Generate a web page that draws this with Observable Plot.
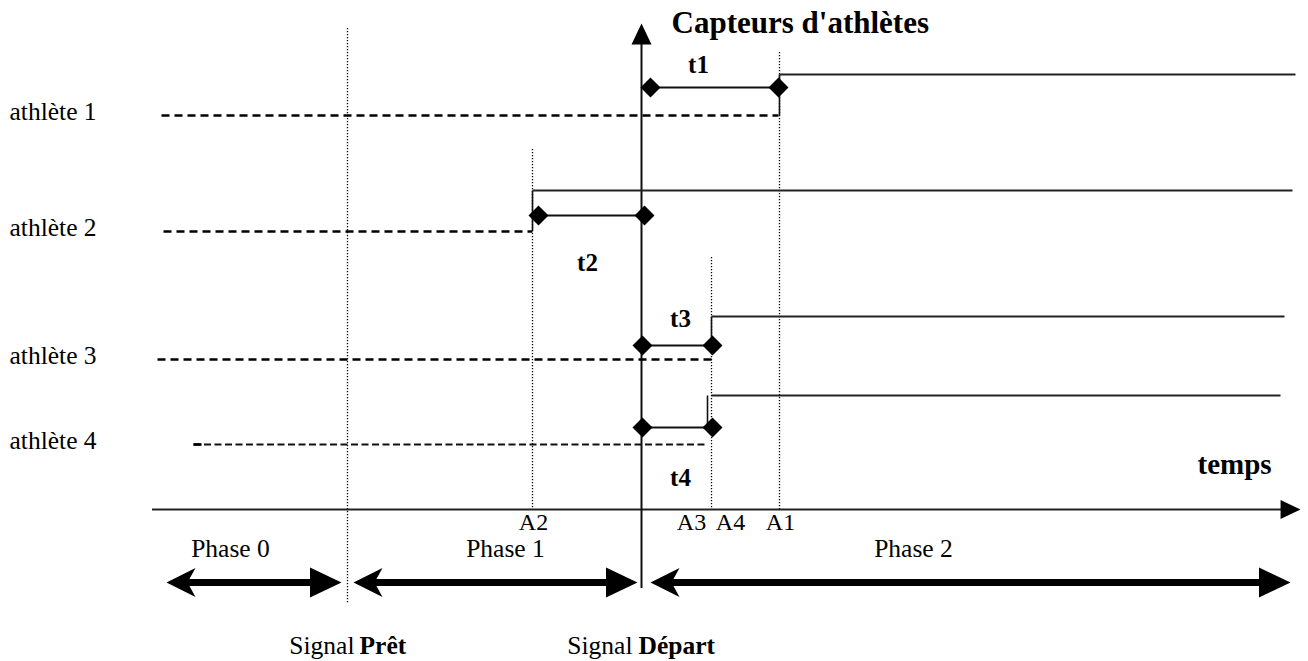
<!DOCTYPE html>
<html><head><meta charset="utf-8">
<script src="https://cdn.jsdelivr.net/npm/d3@7"></script>
<script src="https://cdn.jsdelivr.net/npm/@observablehq/plot@0.6"></script>
<style>body{margin:0;background:#fff} svg{display:block}</style>
</head><body><div id="chart"></div>
<script>
// ---- Data (diagram time units along x, levels along y) ----
const athletes     = ["athlète 1", "athlète 2", "athlète 3", "athlète 4"];
const waitFrom     = [161, 163, 157, 193];
const waitTo       = [778, 532, 711, 707];
const waitLevel    = [115, 231, 359, 444];
const sensorLevel  = [87, 215, 345, 427];
const reactFrom    = [650, 538, 642, 642];
const reactTo      = [778, 644, 712, 712];
const runLevel     = [74, 190, 316, 395];
const runFrom      = [779, 532, 711, 711];
const runTo        = [1295, 1292, 1284, 1280];
const riseAt       = [779, 532, 711, 707];
const riseBottom   = [115, 230, 345, 430];
const delayLabels  = ["t1", "t2", "t3", "t4"];
const delayX       = [698, 587, 680, 680];
const delayY       = [72, 270, 326, 485];

const markerNames  = ["A2", "A3", "A4", "A1"];
const markerX      = [533, 691, 730, 780];
const guideX       = [347, 532, 711, 779];
const guideTop     = [28, 149, 257, 52];
const guideBottom  = [603, 509, 509, 509];

const phases       = ["Phase 0", "Phase 1", "Phase 2"];
const phaseFrom    = [166, 353, 650];
const phaseTo      = [341, 637, 1290];
const phaseLabelX  = [230, 505, 913];
const phaseLabelY  = [556, 556, 556];

const startSignal  = 641;   // Signal Départ
const readySignal  = 347;   // Signal Prêt
const timeAxisY    = 509;
const timeAxisFrom = 152;
const timeAxisTo   = 1300;
const sensorAxisTop = 23;
const sensorAxisBottom = 588;

// ---- helper tables ----
const rows = athletes.map((name, i) => ({
  name, waitFrom: waitFrom[i], waitTo: waitTo[i], wait: waitLevel[i],
  sensor: sensorLevel[i], reactFrom: reactFrom[i], reactTo: reactTo[i],
  run: runLevel[i], runFrom: runFrom[i], runTo: runTo[i],
  riseAt: riseAt[i], riseTop: runLevel[i], riseBottom: riseBottom[i],
  label: delayLabels[i], lx: delayX[i], ly: delayY[i]
}));
const guides = guideX.map((x, i) => ({x, y1: guideTop[i], y2: guideBottom[i]}));
const markers = markerNames.map((m, i) => ({m, x: markerX[i]}));
const phaseRows = phases.map((p, i) => ({p, a: phaseFrom[i], b: phaseTo[i], lx: phaseLabelX[i], ly: phaseLabelY[i]}));

// ---- custom arrowhead symbols (tip at origin, pointing +x) ----
const headFilled = {draw(ctx, size) {
  const k = Math.sqrt(size / Math.PI);
  ctx.moveTo(0, 0); ctx.lineTo(-2.1 * k, -k); ctx.lineTo(-2.1 * k, k); ctx.closePath();
}};
const headBarbed = {draw(ctx, size) {
  const k = Math.sqrt(size / Math.PI);
  ctx.moveTo(0, 0); ctx.lineTo(-2 * k, -k); ctx.lineTo(-1.45 * k, 0); ctx.lineTo(-2 * k, k); ctx.closePath();
}};

const serif = "'Liberation Serif', 'Times New Roman', serif";
const fs = 25.5;

const chart = Plot.plot({
  width: 1308, height: 661, margin: 0,
  x: {domain: [0, 1308], range: [0, 1308], axis: null},
  y: {domain: [0, 661], range: [0, 661], axis: null},
  style: {fontFamily: serif, background: "#fff", color: "#000"},
  marks: [
    // dotted guides
    Plot.ruleX(guides, {x: "x", y1: "y1", y2: "y2", stroke: "#000", strokeWidth: 1.3, strokeDasharray: "1.3,1.7"}),
    // time axis
    Plot.ruleY([timeAxisY], {x1: timeAxisFrom, x2: timeAxisTo - 10, stroke: "#222", strokeWidth: 2}),
    Plot.dot([{x: timeAxisTo, y: timeAxisY}], {x: "x", y: "y", symbol: headFilled, r: 9.5, rotate: 0, fill: "#000", stroke: "none"}),
    // sensor axis (Départ)
    Plot.ruleX([startSignal], {y1: sensorAxisTop + 10, y2: sensorAxisBottom, stroke: "#111", strokeWidth: 2}),
    Plot.dot([{x: startSignal, y: sensorAxisTop}], {x: "x", y: "y", symbol: headFilled, r: 10, rotate: -90, fill: "#000", stroke: "none"}),
    // waiting (dashed)
    Plot.link(rows.slice(0, 3), {x1: "waitFrom", x2: "waitTo", y1: "wait", y2: "wait", stroke: "#000", strokeWidth: 2.6, strokeDasharray: "8,5"}),
    Plot.link(rows.slice(3), {x1: "waitFrom", x2: "waitTo", y1: "wait", y2: "wait", stroke: "#111", strokeWidth: 2, strokeDasharray: "7,3.5"}),
    Plot.link(rows.slice(3), {x1: "waitFrom", x2: d => d.waitFrom + 8, y1: "wait", y2: "wait", stroke: "#000", strokeWidth: 2.8}),
    // risers
    Plot.link(rows, {x1: "riseAt", x2: "riseAt", y1: "riseTop", y2: "riseBottom", stroke: "#111", strokeWidth: 1.6}),
    // running (solid)
    Plot.link(rows, {x1: "runFrom", x2: "runTo", y1: "run", y2: "run", stroke: "#222", strokeWidth: 1.8}),
    // reaction time
    Plot.link(rows, {x1: "reactFrom", x2: "reactTo", y1: "sensor", y2: "sensor", stroke: "#111", strokeWidth: 1.8}),
    Plot.dot(rows, {x: "reactFrom", y: "sensor", symbol: "square", rotate: 45, r: 8, fill: "#000", stroke: "none"}),
    Plot.dot(rows, {x: "reactTo", y: "sensor", symbol: "square", rotate: 45, r: 8, fill: "#000", stroke: "none"}),
    // phase double arrows
    Plot.link(phaseRows, {x1: d => d.a + 20, x2: d => d.b - 25, y1: 582, y2: 582, stroke: "#000", strokeWidth: 7}),
    Plot.dot(phaseRows, {x: "a", y: () => 582, symbol: headBarbed, r: 14.5, rotate: 180, fill: "#000", stroke: "none"}),
    Plot.dot(phaseRows, {x: "b", y: () => 582, symbol: headFilled, r: 15, rotate: 0, fill: "#000", stroke: "none"}),
    // texts
    Plot.text(rows, {x: 9, y: d => d.wait + 4, text: "name", textAnchor: "start", lineAnchor: "bottom", fontSize: fs, fill: "#000"}),
    Plot.text(rows, {x: "lx", y: "ly", text: "label", textAnchor: "middle", lineAnchor: "bottom", fontSize: 25, fontWeight: "bold", fill: "#000"}),
    Plot.text(markers, {x: "x", y: 529, text: "m", textAnchor: "middle", lineAnchor: "bottom", fontSize: 24, fill: "#000"}),
    Plot.text(phaseRows, {x: "lx", y: "ly", text: "p", textAnchor: "middle", lineAnchor: "bottom", fontSize: fs, fill: "#000"}),
    Plot.text(["Capteurs d'athlètes"], {x: 671, y: 32, text: d => d, textAnchor: "start", lineAnchor: "bottom", fontSize: 31, fontWeight: "bold", fill: "#000"}),
    Plot.text(["temps"], {x: 1197, y: 473, text: d => d, textAnchor: "start", lineAnchor: "bottom", fontSize: 29, fontWeight: "bold", fill: "#000"}),
    Plot.text(["Signal"], {x: 354, y: 653, text: d => d, textAnchor: "end", lineAnchor: "bottom", fontSize: fs, fill: "#000"}),
    Plot.text(["Prêt"], {x: 359, y: 653, text: d => d, textAnchor: "start", lineAnchor: "bottom", fontSize: fs, fontWeight: "bold", fill: "#000"}),
    Plot.text(["Signal"], {x: 632, y: 653, text: d => d, textAnchor: "end", lineAnchor: "bottom", fontSize: fs, fill: "#000"}),
    Plot.text(["Départ"], {x: 638, y: 653, text: d => d, textAnchor: "start", lineAnchor: "bottom", fontSize: fs, fontWeight: "bold", fill: "#000"})
  ]
});
document.getElementById("chart").append(chart);
</script>
</body></html>
